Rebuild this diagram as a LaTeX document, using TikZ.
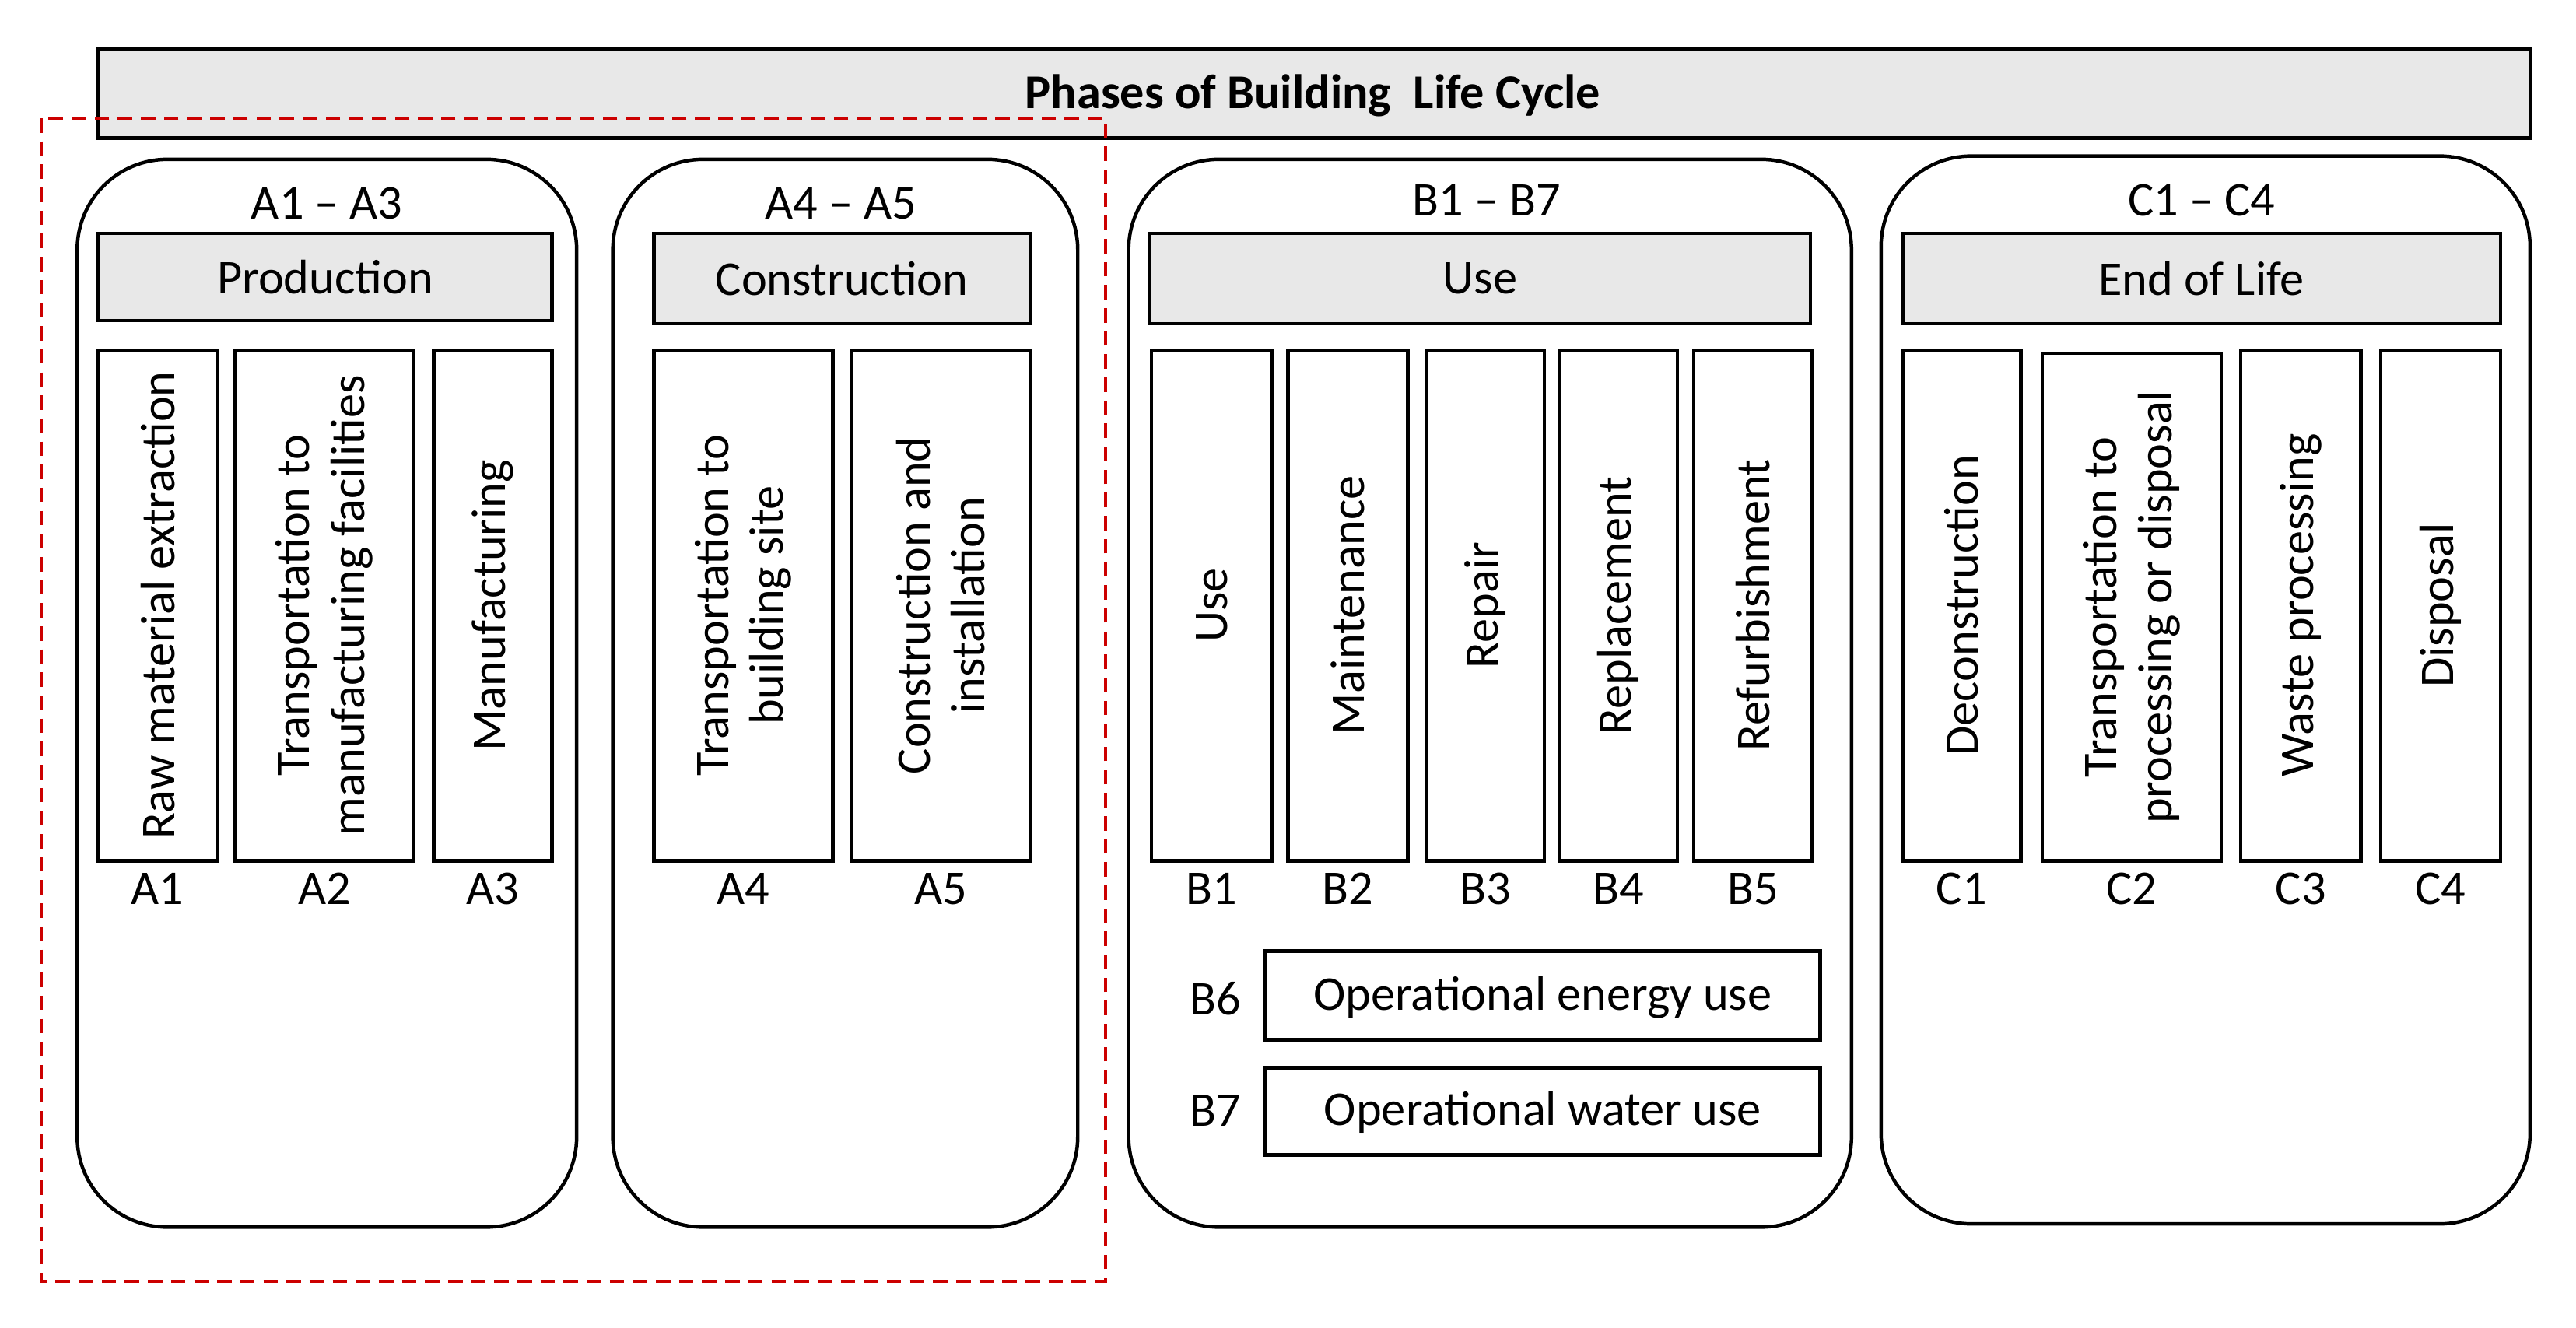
\documentclass[tikz,border=0pt]{standalone}
\usepackage{fontspec}
\setmainfont{Carlito}
\begin{document}
\begin{tikzpicture}[x=0.02cm,y=-0.02cm,
  box/.style={draw,line width=1.2pt},
  head/.style={draw,line width=1.2pt,fill=gray!18},
  phase/.style={draw,line width=1.2pt,rounded corners=1.1cm},
  txt/.style={font=\fontsize{16.8}{19}\selectfont,align=center,inner sep=0pt},
  vt/.style={txt,rotate=90}]
\useasboundingbox (0,0) rectangle (1568,808);
\newcommand\vb[7]{%
  \draw[box] (#2,#4) rectangle (#3,#5);
  \node[vt] (#1) at ({(#2+#3)/2},{(#4+#5)/2}) {#6};
  \node[txt] (#1l) at ({(#2+#3)/2},541) {#7};}
\newcommand\hd[6]{%
  \draw[head] (#2,#4) rectangle (#3,#5);
  \node[txt] (#1) at ({(#2+#3)/2},{(#4+#5)/2}) {#6};}
% title
\draw[head] (60,30) rectangle (1540,84);
\node[txt,font=\fontsize{16.8}{19}\selectfont\bfseries] (title) at (799,58) {Phases of Building\ \ Life Cycle};
% phases
\draw[phase] (47,97) rectangle (351,747);
\draw[phase] (373,97) rectangle (656,747);
\draw[phase] (687,97) rectangle (1127,747);
\draw[phase] (1145,95) rectangle (1540,745);
\node[txt] (la) at (199,124) {A1 -- A3};
\node[txt] (lb) at (512,124) {A4 -- A5};
\node[txt] (lc) at (905,122) {B1 -- B7};
\node[txt] (ld) at (1340,122) {C1 -- C4};
\hd{hp}{60}{336}{142}{195}{Production}
\hd{hc}{398}{627}{142}{197}{Construction}
\hd{hu}{700}{1102}{142}{197}{Use}
\hd{he}{1158}{1522}{142}{197}{End of Life}
\vb{a1}{60}{132}{213}{524}{Raw material extraction}{A1}
\vb{a2}{143}{252}{213}{524}{Transportation to\\manufacturing facilities}{A2}
\vb{a3}{264}{336}{213}{524}{Manufacturing}{A3}
\vb{a4}{398}{507}{213}{524}{Transportation to\\building site}{A4}
\vb{a5}{518}{627}{213}{524}{Construction and\\installation}{A5}
\vb{b1}{701}{774}{213}{524}{Use}{B1}
\vb{b2}{784}{857}{213}{524}{Maintenance}{B2}
\vb{b3}{868}{940}{213}{524}{Repair}{B3}
\vb{b4}{949}{1021}{213}{524}{Replacement}{B4}
\vb{b5}{1031}{1103}{213}{524}{Refurbishment}{B5}
\vb{c1}{1158}{1230}{213}{524}{Deconstruction}{C1}
\vb{c2}{1243}{1352}{215}{524}{Transportation to\\processing or disposal}{C2}
\vb{c3}{1364}{1437}{213}{524}{Waste processing}{C3}
\vb{c4}{1449}{1522}{213}{524}{Disposal}{C4}
\draw[box] (770,579) rectangle (1108,633);
\node[txt] (b6) at (939,607) {Operational energy use};
\node[txt] (b6l) at (740,608) {B6};
\draw[box] (770,650) rectangle (1108,703);
\node[txt] (b7) at (939,677) {Operational water use};
\node[txt] (b7l) at (740,676) {B7};
% dashed
\draw[red!80!black,dashed,line width=1.2pt,dash pattern=on 5pt off 3pt] (25,72) rectangle (673,780);
\end{tikzpicture}
\end{document}
